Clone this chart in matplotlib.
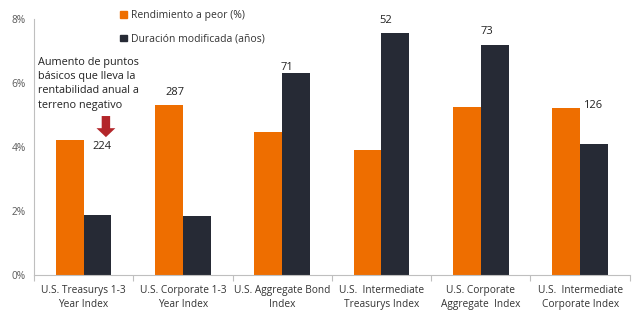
import numpy as np
import matplotlib
matplotlib.use("Agg")
import matplotlib.pyplot as plt
from matplotlib.patches import Patch

plt.rcParams["font.family"] = ["Open Sans", "DejaVu Sans"]

categories = [
    "U.S. Treasurys 1-3\nYear Index",
    "U.S. Corporate 1-3\nYear Index",
    "U.S. Aggregate Bond\nIndex",
    "U.S.  Intermediate\nTreasurys Index",
    "U.S. Corporate\nAggregate  Index",
    "U.S.  Intermediate\nCorporate Index",
]
yield_worst = [4.22, 5.31, 4.47, 3.91, 5.26, 5.21]
mod_duration = [1.87, 1.85, 6.32, 7.55, 7.19, 4.10]
bps_labels = ["224", "287", "71", "52", "73", "126"]

series_names = ["Rendimiento a peor (%)", "Duración modificada (años)"]
note = "Aumento de puntos\nbásicos que lleva la\nrentabilidad anual a\nterreno negativo"

ORANGE = "#EE6E00"
NAVY = "#262A35"
GRID_GREY = "#BFBFBF"
TEXT_GREY = "#595959"

fig = plt.figure(figsize=(6.4, 3.29), dpi=100)
ax = fig.add_axes([0.053, 0.164, 0.931, 0.778])

x = np.arange(len(categories))
w = 0.28
ax.bar(x - w / 2, yield_worst, width=w, color=ORANGE, linewidth=0)
ax.bar(x + w / 2, mod_duration, width=w, color=NAVY, linewidth=0)

ax.set_xlim(-0.5, len(categories) - 0.5)
ax.set_ylim(0, 8)
ax.set_yticks([0, 2, 4, 6, 8])
ax.set_yticklabels([f"{v}%" for v in [0, 2, 4, 6, 8]])

ax.set_xticks(x)
ax.set_xticklabels(categories, fontsize=7.3, color="#333333", linespacing=1.4)
ax.set_xticks(np.arange(-0.5, len(categories)), minor=True)
ax.tick_params(axis="x", which="major", length=0, pad=7)
ax.tick_params(axis="x", which="minor", length=4, color=GRID_GREY, width=0.8)
ax.tick_params(axis="y", length=0, labelsize=7.3, labelcolor=TEXT_GREY, pad=6)

for side in ["top", "right"]:
    ax.spines[side].set_visible(False)
for side in ["left", "bottom"]:
    ax.spines[side].set_color(GRID_GREY)
    ax.spines[side].set_linewidth(0.8)

# bps labels: horizontal shift (category units) and height above the taller bar
label_dx = [0.185, -0.08, 0.05, 0.04, 0.06, 0.13]
label_dy = [-0.19, 0.41, 0.18, 0.42, 0.41, 0.10]
for i, txt in enumerate(bps_labels):
    top = max(yield_worst[i], mod_duration[i])
    ax.text(i + label_dx[i], top + label_dy[i], txt, ha="center", va="center",
            fontsize=8, color="#222222")

# red arrow pointing at the first label
ax.arrow(0.225, 4.97, 0, -0.38, width=0.085, head_width=0.19, head_length=0.28,
         length_includes_head=False, color="#B3262A", linewidth=0)

ax.text(-0.46, 6.83, note, ha="left", va="top", fontsize=7.8, color="#222222",
        linespacing=1.42)

handles = [Patch(color=ORANGE), Patch(color=NAVY)]
fig.legend(handles, series_names, loc="upper left", bbox_to_anchor=(0.18, 0.985),
           frameon=False, fontsize=7.5, labelcolor="#333333", handlelength=0.65,
           handleheight=0.65, handletextpad=0.35, labelspacing=1.2, borderpad=0)

fig.savefig("out.png", dpi=100)
